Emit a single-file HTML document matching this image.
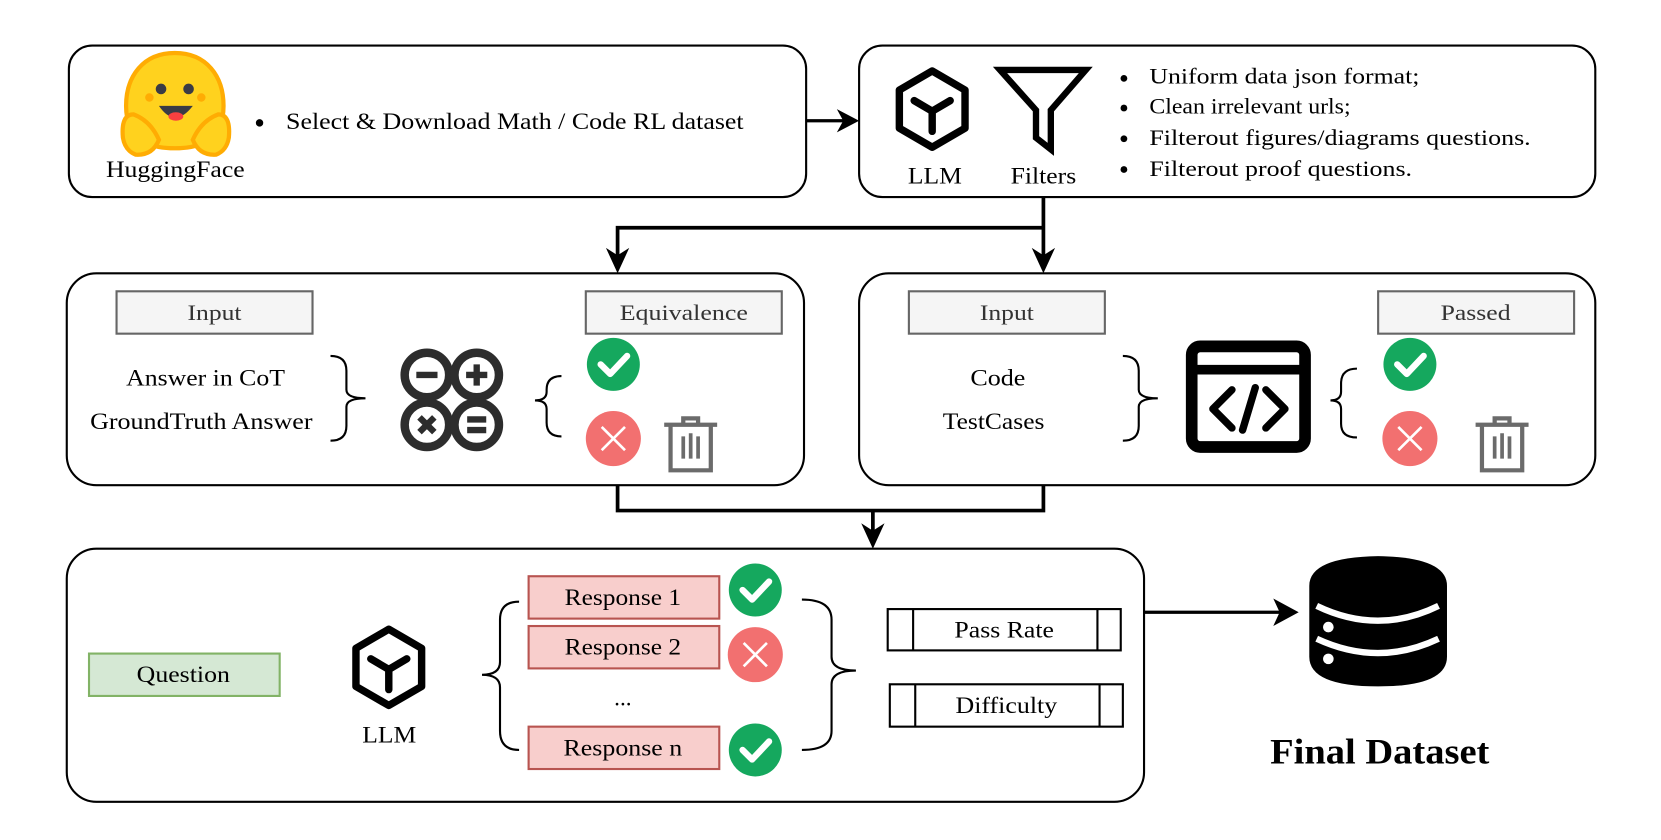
<!DOCTYPE html>
<html><head><meta charset="utf-8"><style>
html,body{margin:0;padding:0;background:#fff;}
svg{display:block;}
</style></head><body>
<svg width="1661" height="840" viewBox="0 0 1568 793" xmlns="http://www.w3.org/2000/svg" font-family="'Liberation Serif', 'Times New Roman', serif">
<defs>
<g id="llm">
<path d="M0,-36 L31,-18 L31,18 L0,36 L-31,18 L-31,-18 Z" fill="none" stroke="#000" stroke-width="7" stroke-linejoin="round"/>
<path d="M-17,-8 L0,2 L17,-8 M0,2 L0,21" fill="none" stroke="#000" stroke-width="7" stroke-linecap="round"/>
</g>
<g id="chk"><circle r="25" fill="#15a85e"/><path d="M-12,0 L-3,9 L13,-8" fill="none" stroke="#fff" stroke-width="6" stroke-linecap="round" stroke-linejoin="round"/></g>
<g id="xx"><circle r="26" fill="#f27070"/><path d="M-11,-11 L11,11 M11,-11 L-11,11" stroke="#fff" stroke-width="2.5"/></g>
<g id="trash" fill="none" stroke="#6b6b6b" stroke-width="4">
<path d="M-25,-17 H25 M-7,-17 V-23 H7 V-17"/>
<path d="M-19,-17 V26 H19 V-17"/>
<path d="M-7,-6 V15 M0,-9 V15 M7,-6 V15" stroke-width="3.5"/>
</g>
</defs>

<!-- Box 1 -->
<rect x="65" y="43" width="696" height="143" rx="22" fill="none" stroke="#000" stroke-width="2"/>
<g>
<path d="M165,50 C195,50 211,72 211,100 C211,128 195,140 165,140 C135,140 119,128 119,100 C119,72 135,50 165,50 Z" fill="#ffd21e" stroke="#ffac03" stroke-width="4"/>
<circle cx="152" cy="84" r="5" fill="#3a3b45"/><circle cx="178" cy="84" r="5" fill="#3a3b45"/>
<circle cx="141" cy="92" r="4" fill="#ffac03"/><circle cx="190" cy="92" r="4" fill="#ffac03"/>
<path d="M150,100 Q165,122 182,100 Z" fill="#3a3b45"/>
<ellipse cx="166" cy="110" rx="7" ry="4" fill="#f94040"/>
<path d="M116,130 Q114,108 126,108 Q142,114 150,132 Q144,147 128,146 Q118,142 116,130 Z" fill="#ffd21e" stroke="#ffac03" stroke-width="4"/>
<path d="M216,130 Q218,108 206,108 Q190,114 182,132 Q188,147 204,146 Q214,142 216,130 Z" fill="#ffd21e" stroke="#ffac03" stroke-width="4"/>
</g>
<text x="100" y="167" font-size="22" textLength="131" lengthAdjust="spacingAndGlyphs">HuggingFace</text>
<circle cx="245" cy="116" r="3.5" fill="#000"/>
<text x="270" y="122" font-size="22" textLength="432" lengthAdjust="spacingAndGlyphs">Select &amp; Download Math / Code RL dataset</text>

<line x1="761" y1="114" x2="798" y2="114" stroke="#000" stroke-width="3"/>
<path d="M811,114 L790,103 L796,114 L790,125 Z" fill="#000"/>

<!-- Box 2 -->
<rect x="811" y="43" width="695" height="143" rx="22" fill="none" stroke="#000" stroke-width="2"/>
<use href="#llm" x="880" y="103"/>
<text x="857" y="173" font-size="22" textLength="51" lengthAdjust="spacingAndGlyphs">LLM</text>
<path d="M944,66 L1025,66 L992,104 L992,141 L978,130 L978,104 Z" fill="none" stroke="#000" stroke-width="6"/>
<text x="954" y="173" font-size="22" textLength="62" lengthAdjust="spacingAndGlyphs">Filters</text>
<g font-size="21">
<circle cx="1061" cy="74" r="3.2"/><text x="1085" y="79" textLength="255" lengthAdjust="spacingAndGlyphs">Uniform data json format;</text>
<circle cx="1061" cy="102" r="3.2"/><text x="1085" y="107" textLength="190" lengthAdjust="spacingAndGlyphs">Clean irrelevant urls;</text>
<circle cx="1061" cy="131" r="3.2"/><text x="1085" y="137" textLength="360" lengthAdjust="spacingAndGlyphs">Filterout figures/diagrams questions.</text>
<circle cx="1061" cy="160" r="3.2"/><text x="1085" y="166" textLength="248" lengthAdjust="spacingAndGlyphs">Filterout proof questions.</text>
</g>

<path d="M985,186 V215 H583 V245 M985,215 V245" fill="none" stroke="#000" stroke-width="3.5"/>
<path d="M583,258 L572,234 L583,241 L594,234 Z" fill="#000"/>
<path d="M985,258 L974,234 L985,241 L996,234 Z" fill="#000"/>

<!-- Box 3 -->
<rect x="63" y="258" width="696" height="200" rx="28" fill="none" stroke="#000" stroke-width="2"/>
<rect x="110" y="275" width="185" height="40" fill="#f5f5f5" stroke="#666" stroke-width="2"/>
<text x="177" y="302" font-size="21" fill="#333" textLength="51" lengthAdjust="spacingAndGlyphs">Input</text>
<rect x="553" y="275" width="185" height="40" fill="#f5f5f5" stroke="#666" stroke-width="2"/>
<text x="585" y="302" font-size="21" fill="#333" textLength="121" lengthAdjust="spacingAndGlyphs">Equivalence</text>
<text x="119" y="364" font-size="22" textLength="150" lengthAdjust="spacingAndGlyphs">Answer in CoT</text>
<text x="85" y="405" font-size="22" textLength="210" lengthAdjust="spacingAndGlyphs">GroundTruth Answer</text>
<path d="M312,336 Q327,336 327,350 V368 Q327,376 345,376 Q327,376 327,384 V402 Q327,416 312,416" fill="none" stroke="#000" stroke-width="2"/>
<g stroke="#2d2d2d" stroke-width="8" fill="#fff">
<circle cx="403" cy="354" r="21"/><circle cx="450" cy="354" r="21"/>
<circle cx="403" cy="401" r="21"/><circle cx="450" cy="401" r="21"/>
</g>
<g stroke="#2d2d2d" stroke-width="6">
<path d="M393,354 H413 M440,354 H460 M450,344 V364 M396,394 L410,408 M410,394 L396,408 M441,396 H459 M441,406 H459"/>
</g>
<path d="M530,355 Q516,355 516,368 V370 Q516,378 505,378 Q516,378 516,386 V399 Q516,412 530,412" fill="none" stroke="#000" stroke-width="2"/>
<use href="#chk" x="579" y="344"/>
<use href="#xx" x="579" y="414"/>
<use href="#trash" x="652" y="418"/>

<!-- Box 4 -->
<rect x="811" y="258" width="695" height="200" rx="28" fill="none" stroke="#000" stroke-width="2"/>
<rect x="858" y="275" width="185" height="40" fill="#f5f5f5" stroke="#666" stroke-width="2"/>
<text x="925" y="302" font-size="21" fill="#333" textLength="51" lengthAdjust="spacingAndGlyphs">Input</text>
<rect x="1301" y="275" width="185" height="40" fill="#f5f5f5" stroke="#666" stroke-width="2"/>
<text x="1360" y="302" font-size="21" fill="#333" textLength="66" lengthAdjust="spacingAndGlyphs">Passed</text>
<text x="916" y="364" font-size="22" textLength="52" lengthAdjust="spacingAndGlyphs">Code</text>
<text x="890" y="405" font-size="22" textLength="96" lengthAdjust="spacingAndGlyphs">TestCases</text>
<path d="M1060,336 Q1075,336 1075,350 V368 Q1075,376 1093,376 Q1075,376 1075,384 V402 Q1075,416 1060,416" fill="none" stroke="#000" stroke-width="2"/>
<rect x="1125" y="327" width="107" height="95" rx="8" fill="none" stroke="#000" stroke-width="11"/>
<line x1="1125" y1="349" x2="1232" y2="349" stroke="#000" stroke-width="9"/>
<path d="M1163,368 L1145,386 L1163,404 M1195,368 L1213,386 L1195,404 M1185,366 L1173,406" fill="none" stroke="#000" stroke-width="7" stroke-linecap="round" stroke-linejoin="round"/>
<path d="M1281,348 Q1266,348 1266,362 V370 Q1266,378 1256,378 Q1266,378 1266,386 V400 Q1266,413 1281,413" fill="none" stroke="#000" stroke-width="2"/>
<use href="#chk" x="1331" y="344"/>
<use href="#xx" x="1331" y="414"/>
<use href="#trash" x="1418" y="418"/>

<path d="M583,458 V482 H985 V458 M824,482 V505" fill="none" stroke="#000" stroke-width="3.5"/>
<path d="M824,518 L813,494 L824,501 L835,494 Z" fill="#000"/>

<!-- Box 5 -->
<rect x="63" y="518" width="1017" height="239" rx="28" fill="none" stroke="#000" stroke-width="2"/>
<rect x="84" y="617" width="180" height="40" fill="#d5e8d4" stroke="#82b366" stroke-width="2"/>
<text x="129" y="644" font-size="22" textLength="88" lengthAdjust="spacingAndGlyphs">Question</text>
<use href="#llm" x="367" y="630"/>
<text x="342" y="701" font-size="22" textLength="51" lengthAdjust="spacingAndGlyphs">LLM</text>
<path d="M490,568 Q472,568 472,585 V625 Q472,637 455,637 Q472,637 472,649 V690 Q472,708 490,708" fill="none" stroke="#000" stroke-width="2"/>
<g fill="#f8cecc" stroke="#b85450" stroke-width="2">
<rect x="499" y="544" width="180" height="40"/>
<rect x="499" y="591" width="180" height="40"/>
<rect x="499" y="686" width="180" height="40"/>
</g>
<text x="533" y="571" font-size="22" textLength="110" lengthAdjust="spacingAndGlyphs">Response 1</text>
<text x="533" y="618" font-size="22" textLength="110" lengthAdjust="spacingAndGlyphs">Response 2</text>
<text x="588" y="666" font-size="22" text-anchor="middle">...</text>
<text x="532" y="713" font-size="22" textLength="112" lengthAdjust="spacingAndGlyphs">Response n</text>
<use href="#chk" x="713" y="557"/>
<use href="#xx" x="713" y="618"/>
<use href="#chk" x="713" y="708"/>
<path d="M757,566 Q785,566 785,585 V620 Q785,633 808,633 Q785,633 785,646 V690 Q785,708 757,708" fill="none" stroke="#000" stroke-width="2"/>
<g fill="#fff" stroke="#000" stroke-width="2">
<rect x="838" y="575" width="220" height="39"/>
<line x1="862" y1="575" x2="862" y2="614"/><line x1="1036" y1="575" x2="1036" y2="614"/>
<rect x="840" y="646" width="220" height="40"/>
<line x1="864" y1="646" x2="864" y2="686"/><line x1="1038" y1="646" x2="1038" y2="686"/>
</g>
<text x="901" y="602" font-size="22" textLength="94" lengthAdjust="spacingAndGlyphs">Pass Rate</text>
<text x="902" y="673" font-size="22" textLength="96" lengthAdjust="spacingAndGlyphs">Difficulty</text>

<line x1="1080" y1="578" x2="1212" y2="578" stroke="#000" stroke-width="3"/>
<path d="M1226,578 L1202,565 L1208,578 L1202,591 Z" fill="#000"/>

<path d="M1236,553 Q1236,526 1301,525 Q1366,526 1366,553 V620 Q1366,648 1301,648 Q1236,648 1236,620 Z" fill="#000"/>
<path d="M1243,572 Q1301,600 1358,572 M1243,603 Q1301,630 1358,603" fill="none" stroke="#fff" stroke-width="6"/>
<circle cx="1254" cy="592" r="5" fill="#fff"/><circle cx="1254" cy="622" r="5" fill="#fff"/>
<text x="1199" y="721" font-size="34" font-weight="bold" textLength="207" lengthAdjust="spacingAndGlyphs">Final Dataset</text>
</svg>
</body></html>
